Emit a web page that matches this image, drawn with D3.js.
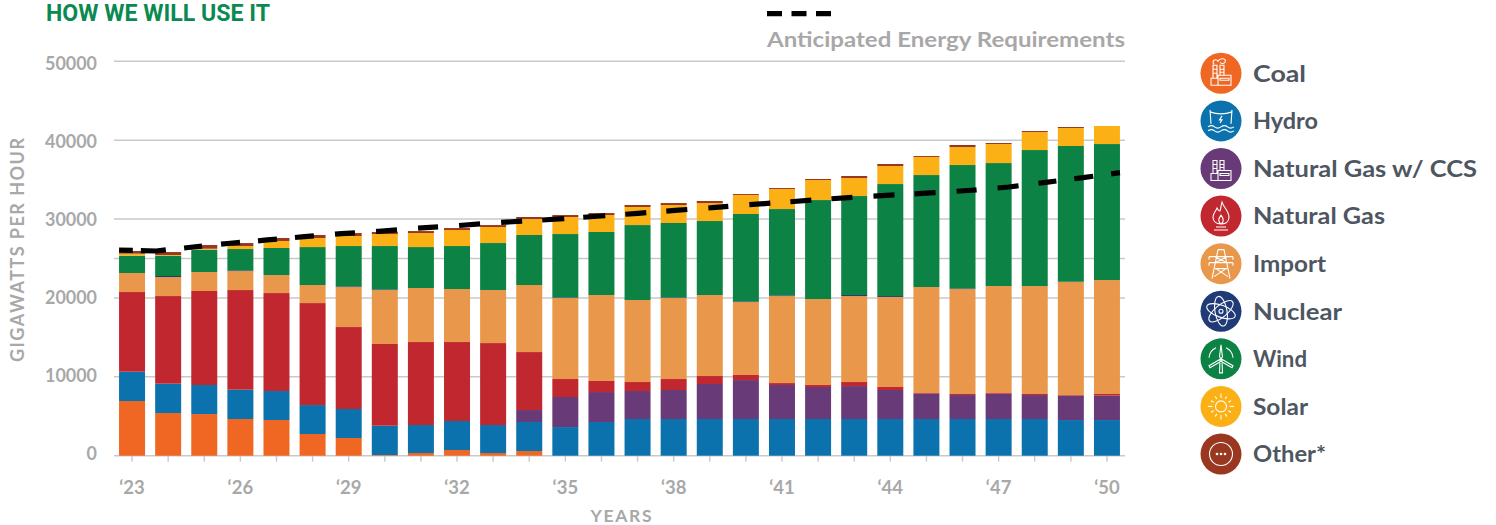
<!DOCTYPE html>
<html><head><meta charset="utf-8">
<script src="https://cdn.jsdelivr.net/npm/d3@7/dist/d3.min.js"></script>
<style>
html,body{margin:0;padding:0;background:#fff;overflow:hidden}
svg{display:block;font-family:Lato,"Noto Sans",sans-serif;font-weight:700}
</style></head><body><svg id="c" width="1496" height="525"></svg>
<script>
const years = d3.range(2023, 2051);
const yTicks = [0,10000,20000,30000,40000,50000];
const extraGrid = [25000];
const xLabelEvery = 3;
const seriesNames = ["Coal","Hydro","Natural Gas w/ CCS","Natural Gas","Import","Nuclear","Wind","Solar","Other*"];
const seriesColors = ["#f06623","#0c72ae","#693a78","#c1272f","#e9974a","#1f3a77","#0c8345","#fbb116","#9a3720"];
const legendTextWidths = [53,65,224,132,73,89,54,55,73];

const coal = [6930,5410,5280,4650,4520,2750,2240,85,340,720,340,590,0,0,0,0,0,0,0,0,0,0,0,0,0,0,0,0];
const hydro = [3720,3720,3680,3720,3680,3670,3680,3715,3550,3680,3550,3680,3630,4270,4650,4650,4650,4650,4650,4650,4650,4650,4650,4650,4650,4650,4520,4520];
const gasCcs = [0,0,0,0,0,0,0,0,0,0,0,1520,3810,3800,3550,3680,4440,4940,4310,4060,4180,3680,3210,3040,3210,3040,3090,3090];
const gas = [10100,11110,11920,12630,12420,12930,10390,10360,10520,10010,10390,7350,2280,1400,1140,1390,1010,640,250,250,510,380,90,130,90,130,80,210];
const imports = [2410,2410,2410,2410,2280,2290,5070,6840,6850,6720,6720,8500,10270,10900,10400,10270,10270,9250,11030,10900,10900,11410,13430,13310,13560,13690,14330,14450];
const nuclear = [0,130,0,90,0,0,90,90,0,0,0,0,80,0,0,80,0,90,90,0,130,120,0,80,0,0,40,0];
const wind = [2200,2580,2830,2700,3430,4810,5110,5490,5190,5450,5960,6340,8030,7990,9500,9430,9380,11070,10940,12550,12550,14200,14200,15640,15590,17240,17200,17240];
const solar = [250,80,120,380,890,1150,1270,1520,1780,2030,2030,2020,2160,2150,2290,2280,2280,2410,2540,2540,2280,2280,2290,2280,2410,2280,2280,2290];
const other = [340,380,470,380,380,380,380,260,250,250,250,260,250,250,250,250,260,120,120,130,260,260,120,260,130,130,130,0];
const requirements = [26080,25950,26460,26930,27350,27770,28150,28450,28830,29120,29500,29760,30050,30390,30730,31100,31440,31820,32160,32510,32800,33090,33340,33650,34060,34660,35250,35880];

const seriesValues = [coal,hydro,gasCcs,gas,imports,nuclear,wind,solar,other];
const table = years.map((yr,i)=>{const r={year:yr};seriesNames.forEach((n,k)=>r[n]=seriesValues[k][i]);return r;});

const svg = d3.select("#c");
const GREY="#a8a8a8", GRID="#c9c9c9";
const x = d3.scaleBand().domain(years).range([114,1125]).paddingInner(0.28).paddingOuter(0.14);
const y = d3.scaleLinear().domain([0,50000]).range([455.7,61.3]);
const yLabel = d3.scaleLinear().domain([0,50000]).range([452.5,62.3]);
const lineX = d3.scalePoint().domain(years).range([x(years[0]), x(years[years.length-1])+x.bandwidth()]);

// grid
svg.append("g").selectAll("line").data(yTicks.concat(extraGrid)).join("line")
  .attr("x1",114).attr("x2",1125).attr("y1",d=>y(d)).attr("y2",d=>y(d))
  .attr("stroke",GRID).attr("stroke-width",1.6);

// axes
const ay = svg.append("g").attr("transform","translate(97,0)")
  .call(d3.axisLeft(yLabel).tickValues(yTicks).tickSize(0).tickPadding(0).tickFormat(d3.format("d")));
ay.select(".domain").remove();
ay.selectAll("text").attr("fill",GREY).attr("font-size",19.5).attr("font-family","Lato").attr("font-weight",700).attr("dy","0.36em")
  .attr("textLength",d=>String(d).length*10.4).attr("lengthAdjust","spacingAndGlyphs");

const ax = svg.append("g").attr("transform",`translate(0,${y(0)})`)
  .call(d3.axisBottom(x).tickSize(6).tickPadding(19).tickFormat((d,i)=>i%xLabelEvery===0||d===2050?"\u2018"+String(d).slice(2):""));
ax.select(".domain").remove();
ax.selectAll("line").attr("stroke",GRID).attr("stroke-width",1.4);
ax.selectAll("text").attr("fill",GREY).attr("font-size",18.5).attr("font-family","Lato").attr("font-weight",700);

// bars
const stack = d3.stack().keys(seriesNames)(table);
svg.append("g").selectAll("g").data(stack).join("g").attr("fill",(d,i)=>seriesColors[i])
  .selectAll("rect").data(d=>d).join("rect")
  .attr("x",d=>x(d.data.year)).attr("width",x.bandwidth())
  .attr("y",d=>y(d[1])).attr("height",d=>Math.max(0,y(d[0])-y(d[1])));

// requirement line: uneven dash rhythm as in the reference
const dashPattern = [13.7,8,25,18.3,18,19,19,18,19,18,19,21,20,21,21,21,20,21,21,21,21,20,22,19,22,20,21,20,21,21,20,21,21,20,21,20,21,21,21,20,21,21,20,21,21,20,18,18,19,18,19,30];
const line = d3.line().x((d,i)=>lineX(years[i])).y(d=>y(d));
svg.append("path").datum(requirements).attr("d",line).attr("fill","none")
  .attr("pathLength",lineX.range()[1]-lineX.range()[0])
  .attr("stroke","#000").attr("stroke-width",5.2).attr("stroke-dasharray",dashPattern.join(" "));

// line legend
svg.append("line").attr("x1",767).attr("x2",831).attr("y1",13.7).attr("y2",13.7)
  .attr("stroke","#000").attr("stroke-width",5.2).attr("stroke-dasharray","15 9.5");
svg.append("text").attr("x",767).attr("y",47).attr("fill",GREY).attr("font-size",21.5)
  .attr("textLength",358).attr("lengthAdjust","spacingAndGlyphs").text("Anticipated Energy Requirements");

// titles
svg.append("text").attr("x",46).attr("y",21.4).attr("fill","#0a8a50").attr("font-size",23).attr("font-family","Roboto")
  .attr("textLength",224).attr("lengthAdjust","spacingAndGlyphs").text("HOW WE WILL USE IT");
svg.append("text").attr("transform","translate(24,250) rotate(-90)").attr("text-anchor","middle")
  .attr("fill",GREY).attr("font-size",18).attr("textLength",224).attr("lengthAdjust","spacing").text("GIGAWATTS PER HOUR");
svg.append("text").attr("x",621).attr("y",521.5).attr("text-anchor","middle")
  .attr("fill",GREY).attr("font-size",17.5).attr("textLength",61).attr("lengthAdjust","spacing").text("YEARS");

// legend icons (white line art in a box centred on the circle)
const icons = {
  factory:(g,smoke)=>{
    g.append("path").attr("d","M-8 5V-8H-4V5M-1 2V-8H3V2M-8 -4H-4M-8 0H-4M-1 -4H3M-1 -1H3M-10 12V5H-3V12ZM-3 12V2H10V12ZM-1 5H8V7H-1Z").attr("class","l");
    if(smoke) g.append("path").attr("d","M-7 -9C-10 -13 -5 -15 -3 -12C-1 -16 6 -15 4 -11C2 -9 0 -10 -1 -11").attr("class","l");
  },
  hydro:g=>{
    g.append("path").attr("d","M-11 -11L-10 3M11 -11L10 3M-11 -9Q0 -5 11 -9M-13 6Q-9.500 3.500 -6.500 6T0 6T6.500 6T13 6M-13 10Q-9.500 7.500 -6.500 10T0 10T6.500 10T13 10M1 -5L-1.500 -1H1L-1 2").attr("class","l");
  },
  flame:g=>{
    g.append("path").attr("d","M1 -14C3 -8 8 -5 8 1C8 6 4 8 0 8C-5 8 -8 5 -8 1C-8 -3 -5 -5 -4 -8C-3 -6 -2 -5 -1 -5C0 -8 0 -11 1 -14ZM0 8C-3 6 -3 3 0 -1C3 3 3 6 0 8ZM-5 11H5M-7 14H7").attr("class","l");
  },
  tower:g=>{
    g.append("path").attr("d","M-3 -14H3L9 15M-3 -14L-9 15M-12 -7H12M-12 -1H12M-6 -7L6 -1M6 -7L-6 -1M-6 5H6M-5 5L7 13M5 5L-7 13M-12 -7V-4M12 -7V-4M-12 -1V2M12 -1V2").attr("class","l");
  },
  atom:g=>{
    [0,60,120].forEach(a=>g.append("ellipse").attr("rx",15).attr("ry",6).attr("transform",`rotate(${a+20})`).attr("class","l"));
    g.append("circle").attr("r",2).attr("class","l");
  },
  wind:g=>{
    g.append("path").attr("d","M0 -14L1.500 -2L0 0L-1.500 -2ZM0 0L12 7L11 9L-1 2ZM0 0L-12 7L-11 9L1 2ZM-1 2L-1.500 14H1.500L1 2M-12 -1A12 12 0 0 1 -5 -11M12 -1A12 12 0 0 0 5 -11").attr("class","l");
  },
  sun:g=>{
    g.append("circle").attr("r",5.5).attr("class","l");
    d3.range(12).forEach(i=>g.append("line").attr("x1",0).attr("x2",0).attr("y1",-8.500).attr("y2",i%3?-11.500:-13).attr("transform",`rotate(${i*30})`).attr("class","l"));
  },
  dots:g=>{
    g.append("circle").attr("r",11.500).attr("class","l");
    [-4,0,4].forEach(dx=>g.append("circle").attr("cx",dx).attr("r",1.300).attr("fill","#fff"));
  }
};
const iconDraw = [g=>icons.factory(g,true),icons.hydro,g=>icons.factory(g,false),icons.flame,icons.tower,icons.atom,icons.wind,icons.sun,icons.dots];
svg.append("style").text(".l{fill:none;stroke:#fff;stroke-width:1.1}");
const legY = d3.scalePoint().domain(seriesNames).range([73.3,454]);
const leg = svg.append("g").selectAll("g").data(seriesNames).join("g").attr("transform",d=>`translate(1221,${legY(d)})`);
leg.append("circle").attr("r",20.5).attr("fill",(d,i)=>seriesColors[i]);
leg.each(function(d,i){iconDraw[i](d3.select(this).append("g"));});
leg.append("text").attr("x",32).attr("y",8.4).attr("fill","#4e5661").attr("font-size",23.5)
  .attr("textLength",(d,i)=>legendTextWidths[i]).attr("lengthAdjust","spacingAndGlyphs").text(d=>d);
</script></body></html>
